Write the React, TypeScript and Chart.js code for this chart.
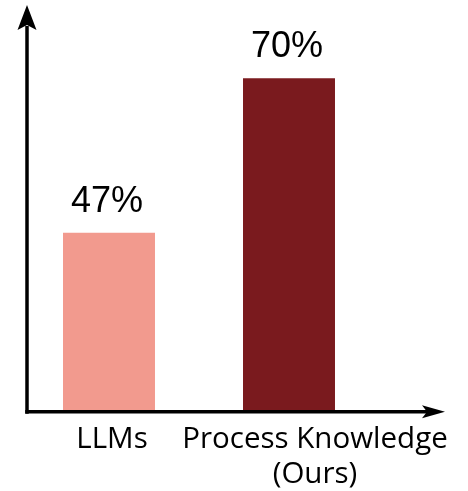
import React, { useEffect, useRef } from "react";
import { Chart, registerables } from "chart.js";

Chart.register(...registerables);

// Data
const categories: string[][] = [["LLMs"], ["Process Knowledge", "(Ours)"]];
const scores: number[] = [47, 70];
const barColors: string[] = ["#F29A8E", "#7A1A1E"];

// Horizontal nudges for the category captions under the bars
const captionShift = [3, 26];

const arrowAxes = {
  id: "arrowAxes",
  afterDatasetsDraw(chart: Chart) {
    const { ctx, chartArea } = chart;
    const ax = 27;
    const ay = chartArea.bottom + 1.7;
    ctx.save();
    ctx.strokeStyle = "#000";
    ctx.fillStyle = "#000";
    ctx.lineWidth = 3.5;
    ctx.lineCap = "butt";
    // vertical axis
    ctx.beginPath();
    ctx.moveTo(ax, ay + 2);
    ctx.lineTo(ax, 26);
    ctx.stroke();
    ctx.beginPath();
    ctx.moveTo(ax, 5);
    ctx.lineTo(ax + 9.5, 30);
    ctx.lineTo(ax, 25);
    ctx.lineTo(ax - 9.5, 30);
    ctx.closePath();
    ctx.fill();
    // horizontal axis
    ctx.beginPath();
    ctx.moveTo(ax - 1.75, ay);
    ctx.lineTo(428, ay);
    ctx.stroke();
    ctx.beginPath();
    ctx.moveTo(445, ay);
    ctx.lineTo(422, ay - 6.5);
    ctx.lineTo(427, ay);
    ctx.lineTo(422, ay + 6.5);
    ctx.closePath();
    ctx.fill();

    // value labels and category captions
    const meta = chart.getDatasetMeta(0);
    meta.data.forEach((bar: any, i: number) => {
      ctx.fillStyle = "#000";
      ctx.textAlign = "center";
      ctx.textBaseline = "alphabetic";
      ctx.font = '36px "Liberation Sans", Arial, sans-serif';
      ctx.fillText(`${scores[i]}%`, bar.x - 2, bar.y - 21);
      ctx.font = '29.5px "Open Sans", "Noto Sans", sans-serif';
      categories[i].forEach((line, j) => {
        ctx.fillText(line, bar.x + captionShift[i], 448 + j * 35);
      });
    });
    ctx.restore();
  },
};

export default function App() {
  const ref = useRef<HTMLCanvasElement>(null);
  useEffect(() => {
    if (!ref.current) return;
    const chart = new Chart(ref.current, {
      type: "bar",
      data: {
        labels: categories.map((c) => c.join(" ")),
        datasets: [
          {
            data: scores,
            backgroundColor: barColors,
            borderWidth: 0,
            barPercentage: 0.511,
            categoryPercentage: 1,
          },
        ],
      },
      options: {
        responsive: false,
        animation: false,
        devicePixelRatio: 1,
        layout: { padding: { left: 19, right: 89, top: 11, bottom: 81 } },
        plugins: { legend: { display: false }, tooltip: { enabled: false } },
        scales: {
          x: { display: false, offset: true },
          y: { display: false, min: 20.6, max: 80 },
        },
      },
      plugins: [arrowAxes],
    });
    return () => chart.destroy();
  }, []);
  return (
    <div style={{ position: "absolute", left: 0, top: 0, width: 468, height: 491, background: "#fff" }}>
      <canvas ref={ref} width={468} height={491} />
    </div>
  );
}
